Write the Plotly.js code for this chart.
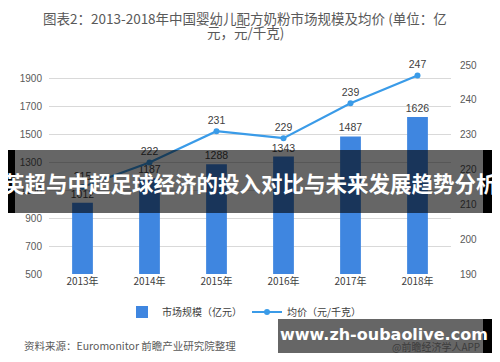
<!DOCTYPE html>
<html><head><meta charset="utf-8">
<script src="https://cdn.plot.ly/plotly-3.0.1.min.js"></script>
<style>html,body{margin:0;padding:0;background:#fff}#c{width:500px;height:362px}</style>
</head><body><div id="c"></div>
<script>
const years = ['2013年','2014年','2015年','2016年','2017年','2018年'];
const marketSize = [1012, 1187, 1288, 1343, 1487, 1626];
const avgPrice = [215, 222, 231, 229, 239, 247];
const leftTicks = [500, 700, 900, 1100, 1300, 1500, 1700, 1900];
const rightTicks = [190, 200, 210, 220, 230, 240, 250];

const F = 'Liberation Sans, Noto Sans CJK SC, sans-serif';
const CJK = 'Noto Sans CJK SC, sans-serif';
const L = 49, R = 49, T = 65, B = 88, W = 500, H = 362;
const pw = W - L - R, ph = H - T - B;
const px = x => (x - L) / pw;
const py = y => (H - B - y) / ph;

const traces = [
  {type:'bar', x: years, y: marketSize, name:'市场规模（亿元）',
   marker:{color:'#3F86E0'}, width:0.31,
   text: marketSize.map(String), textposition:'outside', cliponaxis:false, constraintext:'none',
   textfont:{family:F, size:10.5, color:'#404040'}},
  {type:'scatter', mode:'lines+markers+text', x: years, y: avgPrice, yaxis:'y2',
   name:'均价（元/千克）', line:{color:'#3A9BE8', width:2.2},
   marker:{color:'#3A9BE8', size:6},
   text: avgPrice.map(String), textposition:'top center', cliponaxis:false,
   textfont:{family:F, size:10.5, color:'#404040'}}
];

const shapes = [
  {type:'rect', xref:'paper', yref:'paper', x0:px(8), x1:px(492), y0:py(213), y1:py(150),
   fillcolor:'rgba(0,0,0,0.6)', line:{width:0}, layer:'above'},
  {type:'rect', xref:'paper', yref:'paper', x0:px(8), x1:px(15), y0:py(213), y1:py(150),
   fillcolor:'#000', line:{width:0}, layer:'above'},
  {type:'rect', xref:'paper', yref:'paper', x0:px(483), x1:px(492), y0:py(213), y1:py(150),
   fillcolor:'#000', line:{width:0}, layer:'above'},
  {type:'rect', xref:'paper', yref:'paper', x0:px(278), x1:px(492), y0:py(353), y1:py(319),
   fillcolor:'rgba(0,0,0,0.6)', line:{width:0}, layer:'above'},
  {type:'rect', xref:'paper', yref:'paper', x0:px(483), x1:px(492), y0:py(353), y1:py(319),
   fillcolor:'#000', line:{width:0}, layer:'above'}
];

const annotations = [
  {xref:'paper', yref:'paper', x:px(245), y:py(18), text:'图表2：2013-2018年中国婴幼儿配方奶粉市场规模及均价 (单位：亿',
   showarrow:false, font:{family:CJK, size:13.5, color:'#595959'}, xanchor:'center', yanchor:'middle'},
  {xref:'paper', yref:'paper', x:px(245), y:py(32), text:'元，元/千克)',
   showarrow:false, font:{family:CJK, size:13.5, color:'#595959'}, xanchor:'center', yanchor:'middle'},
  {xref:'paper', yref:'paper', x:px(22), y:py(345), text:'资料来源：Euromonitor 前瞻产业研究院整理',
   showarrow:false, font:{family:CJK, size:10.5, color:'#595959'}, xanchor:'left', yanchor:'middle'},
  {xref:'paper', yref:'paper', x:px(250), y:py(182), text:'<b>英超与中超足球经济的投入对比与未来发展趋势分析</b>',
   showarrow:false, font:{family:CJK, size:21.5, color:'#ffffff'}, xanchor:'center', yanchor:'middle'},
  {xref:'paper', yref:'paper', x:px(482), y:py(346), text:'@前瞻经济学人APP',
   showarrow:false, font:{family:CJK, size:10, color:'#3c3c3c'}, xanchor:'right', yanchor:'middle'},
  {xref:'paper', yref:'paper', x:px(384), y:py(334), text:'<b>www.zh-oubaolive.com</b>',
   showarrow:false, font:{family:'DejaVu Sans, sans-serif', size:16, color:'#ffffff'}, xanchor:'center', yanchor:'middle'}
];

const layout = {
  width:W, height:H, margin:{l:L, r:R, t:T, b:B}, paper_bgcolor:'#fff', plot_bgcolor:'#fff',
  showlegend:true, bargap:0.69,
  legend:{orientation:'h', x:px(122), y:py(312), xanchor:'left', yanchor:'middle',
    font:{family:CJK, size:10, color:'#404040'}, itemwidth:30, tracegroupgap:0, bgcolor:'rgba(0,0,0,0)'},
  xaxis:{type:'category', tickfont:{family:CJK, size:10, color:'#404040'}, showline:false, ticks:'', showgrid:false},
  yaxis:{range:[500,2000], tickvals:leftTicks, tickfont:{family:F, size:10, color:'#595959'},
    gridcolor:'#D9D9D9', gridwidth:1, zeroline:false, showline:false, ticks:'', ticklabelstandoff:6},
  yaxis2:{overlaying:'y', side:'right', range:[190,250], tickvals:rightTicks, showgrid:false,
    tickfont:{family:F, size:10, color:'#595959'}, zeroline:false, showline:false, ticks:'', ticklabelstandoff:8},
  shapes:shapes, annotations:annotations
};
Plotly.newPlot('c', traces, layout, {displayModeBar:false, staticPlot:true});
</script></body></html>
